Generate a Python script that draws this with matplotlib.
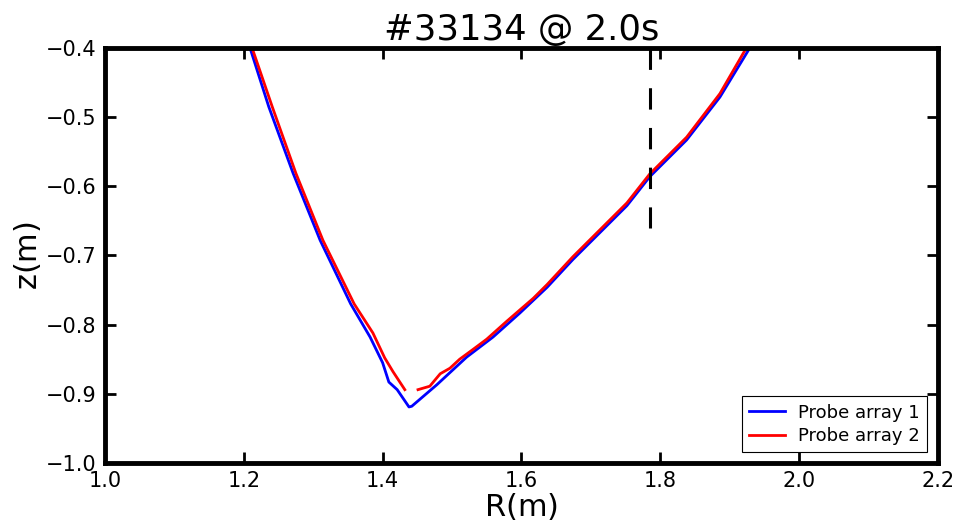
import numpy as np
import matplotlib
matplotlib.use('Agg')
import matplotlib.pyplot as plt

# probe array 1 (blue)
r1 = [1.209, 1.236, 1.271, 1.310, 1.354, 1.382, 1.400, 1.409, 1.421, 1.438,
      1.442, 1.478, 1.521, 1.559, 1.598, 1.637, 1.674, 1.713, 1.752, 1.785,
      1.838, 1.886, 1.929]
z1 = [-0.400, -0.485, -0.581, -0.678, -0.770, -0.818, -0.855, -0.883, -0.894, -0.919,
      -0.918, -0.887, -0.847, -0.818, -0.783, -0.746, -0.706, -0.667, -0.628, -0.586,
      -0.533, -0.471, -0.400]

# probe array 2 (red), gap near the x-point
r2 = [1.212, 1.241, 1.275, 1.314, 1.359, 1.386, 1.403, 1.415, 1.432, np.nan,
      1.451, 1.468, 1.483, 1.497, 1.511, 1.530, 1.550, 1.579, 1.617, 1.637, 1.674,
      1.713, 1.752, 1.785, 1.838, 1.886, 1.924]
z2 = [-0.400, -0.485, -0.581, -0.678, -0.770, -0.812, -0.848, -0.868, -0.894, np.nan,
      -0.894, -0.889, -0.871, -0.863, -0.850, -0.836, -0.821, -0.795, -0.762, -0.742, -0.702,
      -0.663, -0.624, -0.582, -0.529, -0.466, -0.400]

r_dash = [1.785, 1.785]
z_dash = [-0.40, -0.66]

plt.rcParams['mathtext.fontset'] = 'dejavusans'

fig = plt.figure(figsize=(9.57, 5.29), dpi=100)
ax = fig.add_axes([0.1097, 0.1248, 0.8703, 0.7845])

ax.plot(r1, z1, color='blue', lw=2, label='Probe array 1')
ax.plot(r2, z2, color='red', lw=2, label='Probe array 2')
ax.plot(r_dash, z_dash, color='black', lw=2.2, linestyle=(0, (7, 6)))

ax.set_xlim(1.0, 2.2)
ax.set_ylim(-1.0, -0.4)
ax.set_xticks([1.0, 1.2, 1.4, 1.6, 1.8, 2.0, 2.2])
ax.set_yticks([-1.0, -0.9, -0.8, -0.7, -0.6, -0.5, -0.4])

for s in ax.spines.values():
    s.set_linewidth(3.5)
ax.tick_params(direction='in', top=True, right=True, length=8, width=2,
               labelsize=15, pad=6)

ax.set_title('#33134 @ 2.0s', fontsize=25.5, pad=6)
ax.set_xlabel(r'$\mathrm{R(m)}$', fontsize=22, labelpad=0)
ax.set_ylabel(r'$\mathrm{z(m)}$', fontsize=22, labelpad=2)

leg = ax.legend(loc='lower right', fontsize=13, fancybox=False, framealpha=1,
                edgecolor='black', handlelength=2.0, handletextpad=0.7,
                labelspacing=0.3, borderaxespad=0.6)
leg.get_frame().set_linewidth(0.8)

fig.savefig('out.png', dpi=100)
